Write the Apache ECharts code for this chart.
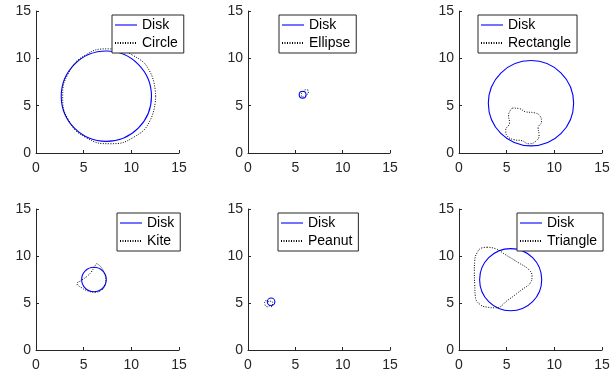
<!DOCTYPE html>
<html>
<head>
<meta charset="utf-8">
<script src="https://cdn.jsdelivr.net/npm/echarts@6/dist/echarts.min.js"></script>
<style>html,body{margin:0;padding:0;background:#fff}#c{width:614px;height:377px}</style>
</head>
<body>
<div id="c"></div>
<script>
// ---- data ----
const axisTicks = [0, 5, 10, 15];
const shapeNames = ['Circle', 'Ellipse', 'Rectangle', 'Kite', 'Peanut', 'Triangle'];
// Disks: [centerX, centerY, radius]
const diskCircle = [7.38, 6.0, 4.75];
const diskEllipse = [5.77, 6.16, 0.36];
const diskRectangle = [7.55, 5.26, 4.49];
const diskKite = [6.08, 7.5, 1.3];
const diskPeanut = [2.44, 5.13, 0.4];
const diskTriangle = [5.42, 7.48, 3.28];
// Dotted reconstructed outlines [x, y]
const circleShape = [[12.55,6.0],[12.0,8.5],[10.1,10.35],[7.6,11.0],[5.1,10.3],[3.4,8.4],[2.8,6.0],[3.4,3.5],[5.2,1.65],[7.8,0.98],[10.3,1.7],[12.0,3.5],[12.55,6.0]];
const ellipseShape = [[6.35,6.65],[6.12,6.68],[5.82,6.48],[5.63,6.18],[5.65,5.95],[5.88,5.92],[6.18,6.12],[6.38,6.42],[6.35,6.65]];
const rectangleShape = [[5.6,4.75],[6.3,4.7],[7.0,4.35],[7.9,4.25],[8.5,3.9],[8.65,3.3],[8.3,2.65],[8.4,1.9],[8.0,1.2],[7.3,0.98],[6.6,1.3],[5.8,1.4],[5.1,1.75],[4.9,2.4],[5.3,3.2],[5.2,4.0],[5.6,4.75]];
const kiteShape = [[6.35,9.2],[6.8,8.85],[7.15,8.2],[7.32,7.5],[7.2,6.8],[6.85,6.35],[6.2,6.15],[5.4,6.3],[4.75,6.65],[4.3,7.05],[4.75,7.4],[5.3,7.8],[5.8,8.3],[6.1,8.8],[6.35,9.2]];
const peanutShape = [[1.75,5.0],[1.85,5.25],[2.05,5.25],[2.2,5.12],[2.4,5.2],[2.6,5.05],[2.6,4.8],[2.45,4.6],[2.25,4.7],[2.05,4.6],[1.85,4.7],[1.75,5.0]];
const triangleShape = [[2.94,10.93],[3.81,10.79],[4.86,10.15],[6.26,9.27],[7.31,8.56],[7.66,7.85],[7.48,7.14],[6.61,6.43],[5.21,5.37],[3.81,4.49],[2.94,4.56],[2.13,4.91],[1.71,5.73],[1.65,6.97],[1.61,8.38],[1.65,9.45],[1.89,10.33],[2.41,10.86],[2.94,10.93]];

const disks = [diskCircle, diskEllipse, diskRectangle, diskKite, diskPeanut, diskTriangle];
const shapes = [circleShape, ellipseShape, rectangleShape, kiteShape, peanutShape, triangleShape];

// ---- layout ----
const gridPos = [
  {left: 36, top: 11, width: 143, height: 142},
  {left: 248, top: 11, width: 142, height: 142},
  {left: 459, top: 11, width: 143, height: 142},
  {left: 36, top: 209, width: 143, height: 141},
  {left: 248, top: 209, width: 142, height: 141},
  {left: 459, top: 209, width: 143, height: 141}
];
const legendPos = [
  {left: 112, top: 15}, {left: 279, top: 15}, {left: 478, top: 15},
  {left: 117, top: 213}, {left: 278, top: 213}, {left: 517, top: 213}
];
const AX = '#262626';
const FONT = 'Liberation Sans, Arial, Helvetica, sans-serif';

function axis(i, isX) {
  return {
    type: 'value', gridIndex: i, min: axisTicks[0], max: axisTicks[axisTicks.length - 1], interval: 5,
    axisLine: {show: true, lineStyle: {color: AX, width: 1}},
    axisTick: {show: true, inside: true, length: 3, lineStyle: {color: AX}},
    splitLine: {show: false},
    axisLabel: {color: AX, fontSize: 14, fontFamily: FONT, margin: isX ? 8 : 5}
  };
}

const option = {
  animation: false,
  backgroundColor: '#fff',
  grid: gridPos.map(g => Object.assign({containLabel: false}, g)),
  xAxis: gridPos.map((g, i) => axis(i, true)),
  yAxis: gridPos.map((g, i) => axis(i, false)),
  legend: legendPos.map((p, i) => ({
    left: p.left, top: p.top, orient: 'vertical',
    data: [
      {name: 'Disk', icon: 'path://M0,0 H100 V5 H0 Z', itemStyle: {color: '#0000ff'}},
      {name: shapeNames[i], itemStyle: {color: 'rgba(0,0,0,0)', borderWidth: 0, opacity: 0}}
    ],
    itemWidth: 22, itemHeight: 14, itemGap: 4,
    padding: [3, 6, 3, 2],
    borderColor: AX, borderWidth: 1, backgroundColor: '#fff',
    selectedMode: false,
    textStyle: {color: '#000', fontSize: 14, fontFamily: FONT}
  })),
  series: []
};

disks.forEach((d, i) => {
  option.series.push({
    type: 'custom', name: 'Disk', xAxisIndex: i, yAxisIndex: i,
    data: [d],
    itemStyle: {color: '#0000ff'},
    renderItem: function (params, api) {
      const c = api.coord([api.value(0), api.value(1)]);
      const s = api.size([api.value(2), api.value(2)]);
      return {
        type: 'circle',
        shape: {cx: c[0], cy: c[1], r: (s[0] + s[1]) / 2},
        style: {fill: 'none', stroke: '#0000ff', lineWidth: 1.1}
      };
    }
  });
  option.series.push({
    type: 'line', name: shapeNames[i], xAxisIndex: i, yAxisIndex: i,
    data: shapes[i], smooth: 0.5, symbol: 'none',
    lineStyle: {color: '#000', width: 1, type: [1, 1.5]},
    itemStyle: {color: '#000'}
  });
});

const chart = echarts.init(document.getElementById('c'), null, {renderer: 'canvas'});
chart.setOption(option);
</script>
</body>
</html>
